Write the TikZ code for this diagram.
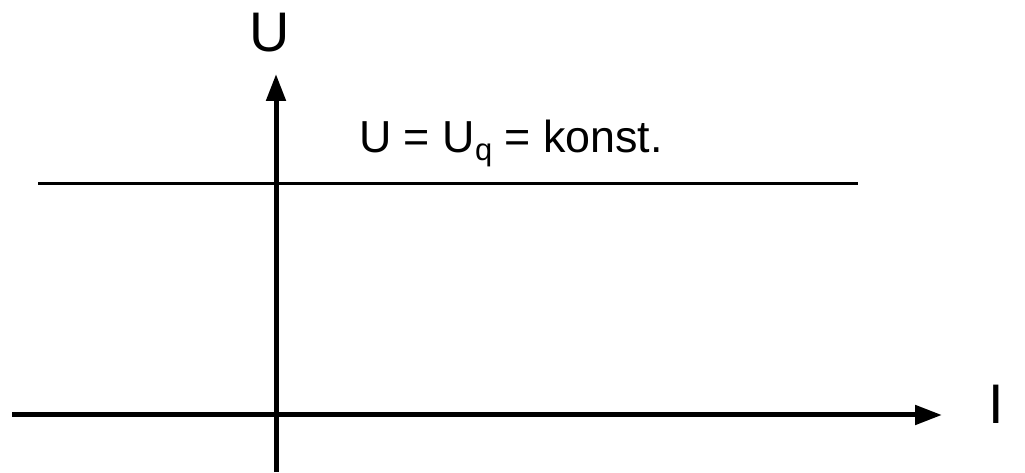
\documentclass[tikz,border=0pt]{standalone}
\usepackage{fontspec}
\setmainfont{Liberation Sans}
\usetikzlibrary{arrows.meta}
\tikzset{
  axis/.style={line width=5bp,-{Triangle[length=27bp,width=19bp]}},
  level/.style={line width=3bp},
  biglabel/.style={font=\fontsize{56}{60}\selectfont,inner sep=0pt},
  formula/.style={font=\fontsize{45}{50}\selectfont,inner sep=0pt}
}
\begin{document}
\begin{tikzpicture}[x=1bp,y=-1bp]
\useasboundingbox (0,0) rectangle (1025,473);
\coordinate (ybot) at (276,472);
\coordinate (ytop) at (276,74);
\coordinate (xleft) at (12,415);
\coordinate (xright) at (942,415);
\coordinate (lvlL) at (38,184);
\coordinate (lvlR) at (858,184);
\draw[level] (lvlL) -- (lvlR);
\draw[axis] (ybot) -- (ytop);
\draw[axis] (xleft) -- (xright);
\node[biglabel,anchor=base] (ulab) at (270,52) {U};
\node[biglabel,anchor=base] (ilab) at (996,423) {I};
\node[formula,anchor=base west] (eq) at (359,153) {U = U\raisebox{-8bp}{\fontsize{31}{33}\selectfont q} = konst.};
\end{tikzpicture}
\end{document}
